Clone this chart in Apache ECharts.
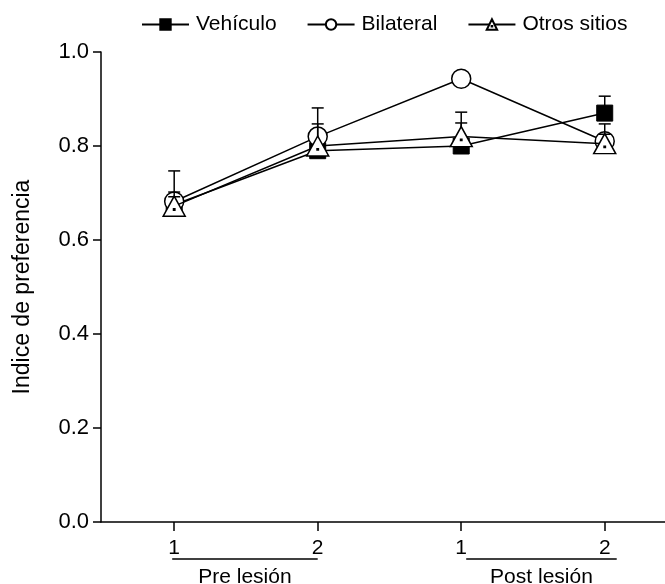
<!DOCTYPE html>
<html>
<head>
<meta charset="utf-8">
<script src="https://cdn.jsdelivr.net/npm/echarts@6/dist/echarts.min.js"></script>
<style>html,body{margin:0;padding:0;background:#fff}#c{width:665px;height:584px}</style>
</head>
<body>
<div id="c"></div>
<script>
const categories = ['1', '2', '1', '2'];
const xPositions = [1, 2, 3, 4];
const seriesNames = ['Vehículo', 'Bilateral', 'Otros sitios'];
const vehiculo = [0.675, 0.79, 0.80, 0.87];
const vehiculoErr = [0.027, 0.02, 0.049, 0.036];
const bilateral = [0.682, 0.82, 0.943, 0.81];
const bilateralErr = [0.065, 0.061, 0, 0.037];
const otros = [0.672, 0.80, 0.82, 0.805];
const otrosErr = [0.02, 0.047, 0.052, 0.02];
const yTicks = [0, 0.2, 0.4, 0.6, 0.8, 1.0];
const groupNames = ['Pre lesión', 'Post lesión'];
const groupSpans = [[1, 2], [3, 4]];

const FONT = "'Liberation Sans', Arial, sans-serif";
const chart = echarts.init(document.getElementById('c'));
const triPath = 'path://M10,0 L20,18 L0,18 Z M9.4,11.4 L10.6,11.4 L10.6,12.6 L9.4,12.6 Z';

function pts(vals) { return vals.map((v, i) => [xPositions[i], v]); }
function errSeries(vals, errs, z) {
  return {
    type: 'custom', z: z, silent: true,
    data: vals.map((v, i) => [xPositions[i], v, v + errs[i]]).filter((d, i) => errs[i] > 0),
    renderItem: function (params, api) {
      const p0 = api.coord([api.value(0), api.value(1)]);
      const p1 = api.coord([api.value(0), api.value(2)]);
      const style = { stroke: '#000', lineWidth: 1.5 };
      return { type: 'group', children: [
        { type: 'line', shape: { x1: p0[0], y1: p0[1], x2: p1[0], y2: p1[1] }, style: style },
        { type: 'line', shape: { x1: p1[0] - 6, y1: p1[1], x2: p1[0] + 6, y2: p1[1] }, style: style }
      ]};
    }
  };
}
const lineCommon = { type: 'line', lineStyle: { color: '#000', width: 1.5 }, animation: false };

chart.setOption({
  animation: false,
  textStyle: { fontFamily: FONT },
  legend: {
    data: seriesNames, left: 136, top: 9, itemWidth: 47, itemHeight: 13, itemGap: 30,
    textStyle: { fontSize: 21, color: '#000', fontFamily: FONT, padding: [0, 0, 0, 2] }
  },
  grid: { left: 101, right: 0, top: 52, bottom: 62 },
  xAxis: {
    type: 'value', min: 0.49, max: 4.42,
    axisLine: { lineStyle: { color: '#000', width: 1.5 } },
    axisTick: { customValues: xPositions, length: 9, lineStyle: { color: '#000', width: 1.5 } },
    axisLabel: { customValues: xPositions, margin: 16, fontSize: 21, color: '#000',
      formatter: v => categories[xPositions.indexOf(v)] || '' },
    splitLine: { show: false }
  },
  yAxis: {
    type: 'value', min: 0, max: 1, interval: 0.2,
    name: 'Indice de preferencia', nameLocation: 'middle', nameGap: 67, nameRotate: 90,
    nameTextStyle: { fontSize: 23, color: '#000', fontFamily: FONT },
    axisLine: { show: true, lineStyle: { color: '#000', width: 1.5 } },
    axisTick: { show: true, length: 8, lineStyle: { color: '#000', width: 1.5 } },
    axisLabel: { margin: 12, fontSize: 22, color: '#000', formatter: v => v.toFixed(1) },
    splitLine: { show: false }
  },
  series: [
    Object.assign({}, lineCommon, { name: seriesNames[0], data: pts(vehiculo), z: 2,
      symbol: 'rect', symbolSize: 16, itemStyle: { color: '#000', borderColor: '#000', borderWidth: 1 } }),
    errSeries(vehiculo, vehiculoErr, 3),
    Object.assign({}, lineCommon, { name: seriesNames[1], data: pts(bilateral), z: 4,
      symbol: 'circle', symbolSize: 19, itemStyle: { color: '#fff', borderColor: '#000', borderWidth: 1.5 } }),
    errSeries(bilateral, bilateralErr, 5),
    Object.assign({}, lineCommon, { name: seriesNames[2], data: pts(otros), z: 6,
      symbol: triPath, symbolSize: [22, 20], itemStyle: { color: '#fff', borderColor: '#000', borderWidth: 1.5 } }),
    errSeries(otros, otrosErr, 5)
  ]
});

const gy = chart.convertToPixel({ gridIndex: 0 }, [0, 0])[1];
const graphics = [];
groupNames.forEach((name, i) => {
  const xa = chart.convertToPixel({ xAxisIndex: 0 }, groupSpans[i][0]);
  const xb = chart.convertToPixel({ xAxisIndex: 0 }, groupSpans[i][1]);
  const off = i === 0 ? [-2, 0] : [5, 12];
  const x1 = xa + off[0], x2 = xb + off[1];
  graphics.push({ type: 'line', shape: { x1: x1, y1: gy + 37, x2: x2, y2: gy + 37 },
    style: { stroke: '#000', lineWidth: 1.5 } });
  graphics.push({ type: 'text', x: (x1 + x2) / 2, y: gy + 55,
    style: { text: name, fontSize: 21, fontFamily: FONT, fill: '#000', align: 'center', verticalAlign: 'middle' } });
});
chart.setOption({ graphic: graphics });
</script>
</body>
</html>
